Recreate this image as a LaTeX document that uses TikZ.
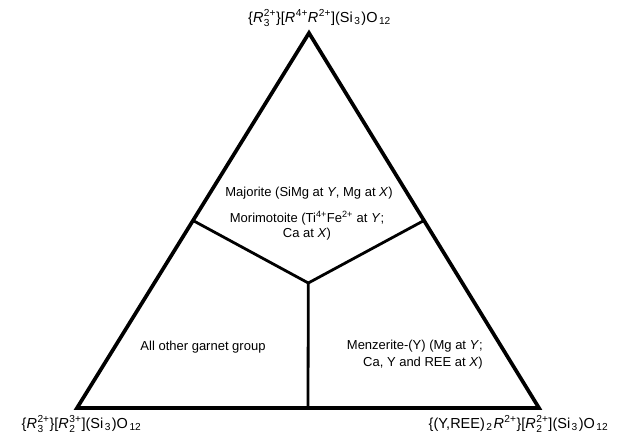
\documentclass[tikz,border=0pt]{standalone}
\usepackage{fontspec}
\usepackage{amsmath}
\usetikzlibrary{calc}
\setmainfont{Liberation Sans}
\newcommand{\Rit}{\textit{R}\kern0.5pt}
\newcommand{\ssb}[2]{$^{\text{#1}}_{\text{#2}}$}
\newcommand{\sbx}[1]{\kern1.5pt$_{\text{#1}}$\kern1pt}
\newcommand{\spx}[1]{$^{\text{#1}}$}
\begin{document}
\begin{tikzpicture}[x=1pt,y=-1pt,
  lbl/.style={inner sep=0pt,font=\fontsize{14.5}{16}\selectfont},
  txt/.style={inner sep=0pt,font=\fontsize{13}{15}\selectfont},
  outer/.style={line width=3.7pt,line join=miter},
  inner/.style={line width=2.8pt}]
\useasboundingbox (0,0) rectangle (624,437);
\coordinate (A) at (309,33);
\coordinate (B) at (77,408);
\coordinate (C) at (539,408);
\coordinate (G) at (308.3,283);
\coordinate (mL) at ($(A)!0.5!(B)$);
\coordinate (mR) at ($(A)!0.5!(C)$);
\coordinate (mB) at ($(B)!0.5!(C)$);
\draw[inner] (mL) -- (G) -- (mR);
\draw[inner] (G) -- (mB);
\draw[outer] (A) -- (B) -- (C) -- cycle;
\node[lbl] (top) at (320,18) {\{\Rit\ssb{2+}{3}\}[\Rit\spx{4+}\Rit\spx{2+}](Si\sbx{3})O\sbx{12}};
\node[lbl] (bl) at (82,424) {\{\Rit\ssb{2+}{3}\}[\Rit\ssb{3+}{2}](Si\sbx{3})O\sbx{12}};
\node[lbl] (br) at (519,424) {\{(Y,REE)\sbx{2}\Rit\spx{2+}\}[\Rit\ssb{2+}{2}](Si\sbx{3})O\sbx{12}};
\node[txt] (maj) at (309,193) {Majorite (SiMg at \textit{Y}, Mg at \textit{X})};
\node[txt,align=center] (mor) at (307,225.5) {Morimotoite (Ti\spx{4+}Fe\spx{2+} at \textit{Y};\\Ca at \textit{X})};
\node[txt] (all) at (203,347) {All other garnet group};
\node[txt,align=right,anchor=east,font=\fontsize{13}{17}\selectfont] (men) at (483,354.5) {Menzerite-(Y) (Mg at \textit{Y};\\Ca, Y and REE at \textit{X})};
\end{tikzpicture}
\end{document}
